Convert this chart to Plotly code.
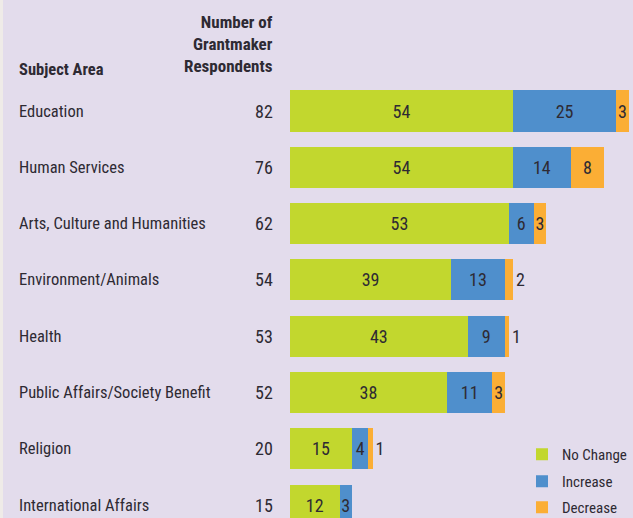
import plotly.graph_objects as go

categories = ["Education", "Human Services", "Arts, Culture and Humanities",
              "Environment/Animals", "Health", "Public Affairs/Society Benefit",
              "Religion", "International Affairs"]
respondents = [82, 76, 62, 54, 53, 52, 20, 15]
no_change = [54, 54, 53, 39, 43, 38, 15, 12]
increase = [25, 14, 6, 13, 9, 11, 4, 3]
decrease = [3, 8, 3, 2, 1, 3, 1, 0]
series_names = ["No Change", "Increase", "Decrease"]

W, H = 633, 518
FONT = "Roboto Condensed, DejaVu Sans Condensed, sans-serif"
TXT = "#2e2a33"
colors = ["#c2d72e", "#4f8fcc", "#fbae35"]
legend_ids = ["legend", "legend2", "legend3"]

fig = go.Figure()
for name, vals, col, lid in zip(series_names, [no_change, increase, decrease], colors, legend_ids):
    if name == "Decrease":
        pos = ["outside" if v <= 2 else "inside" for v in vals]
    else:
        pos = "inside"
    fig.add_trace(go.Bar(
        y=categories, x=vals, orientation="h", name=name, legend=lid,
        marker=dict(color=col, line=dict(width=0)),
        width=0.73,
        text=[str(v) if v > 0 else "" for v in vals],
        textposition=pos, insidetextanchor="middle",
        constraintext="none", cliponaxis=False,
        textfont=dict(family=FONT, size=18, color=TXT),
        hoverinfo="skip",
    ))

px_per_unit = 4.13
x0 = 290
fig.update_xaxes(domain=[x0 / W, 1], range=[0, (W - x0) / px_per_unit], visible=False)
y_top_px, pitch = 111, 56.3
fig.update_yaxes(type="category", categoryorder="array", categoryarray=categories,
                 range=[(H - y_top_px) / pitch, -y_top_px / pitch], visible=False)

ann = []
for c, r in zip(categories, respondents):
    ann.append(dict(x=17 / W, xref="paper", y=c, yref="y", text=c, showarrow=False,
                    xanchor="left", yanchor="middle",
                    font=dict(family=FONT, size=16.5, color=TXT)))
    ann.append(dict(x=275 / W, xref="paper", y=c, yref="y", text=str(r), showarrow=False,
                    xanchor="right", yanchor="middle",
                    font=dict(family=FONT, size=18, color=TXT)))
ann.append(dict(x=17 / W, xref="paper", y=1 - 69 / H, yref="paper", text="<b>Subject Area</b>",
                showarrow=False, xanchor="left", yanchor="middle",
                font=dict(family=FONT, size=16.5, color=TXT)))
ann.append(dict(x=275 / W, xref="paper", y=1 - 44 / H, yref="paper",
                text="<b>Number of<br>Grantmaker<br>Respondents</b>", align="right",
                showarrow=False, xanchor="right", yanchor="middle",
                font=dict(family=FONT, size=17, color=TXT)))

leg_common = dict(xanchor="left", yanchor="top", bgcolor="rgba(0,0,0,0)",
                  font=dict(family=FONT, size=15, color=TXT), itemwidth=30)
leg_tops = [438, 465, 491]
leg_x = 522

fig.update_layout(
    width=W, height=H, autosize=False,
    margin=dict(l=0, r=0, t=0, b=0, autoexpand=False),
    barmode="stack",
    paper_bgcolor="#e3dcec", plot_bgcolor="#e3dcec",
    annotations=ann,
    shapes=[dict(type="rect", xref="paper", yref="paper", x0=0, x1=3 / W, y0=0, y1=1,
                 fillcolor="#efebe8", line=dict(width=0), layer="below")],
    showlegend=True,
    legend=dict(x=leg_x / W, y=1 - leg_tops[0] / H, **leg_common),
    legend2=dict(x=leg_x / W, y=1 - leg_tops[1] / H, **leg_common),
    legend3=dict(x=leg_x / W, y=1 - leg_tops[2] / H, **leg_common),
    font=dict(family=FONT, color=TXT),
)
post = ("document.body.style.margin='0';"
        "document.body.style.overflow='hidden';")
fig.write_html("out.html", config={"responsive": False, "displayModeBar": False},
               post_script=post)
